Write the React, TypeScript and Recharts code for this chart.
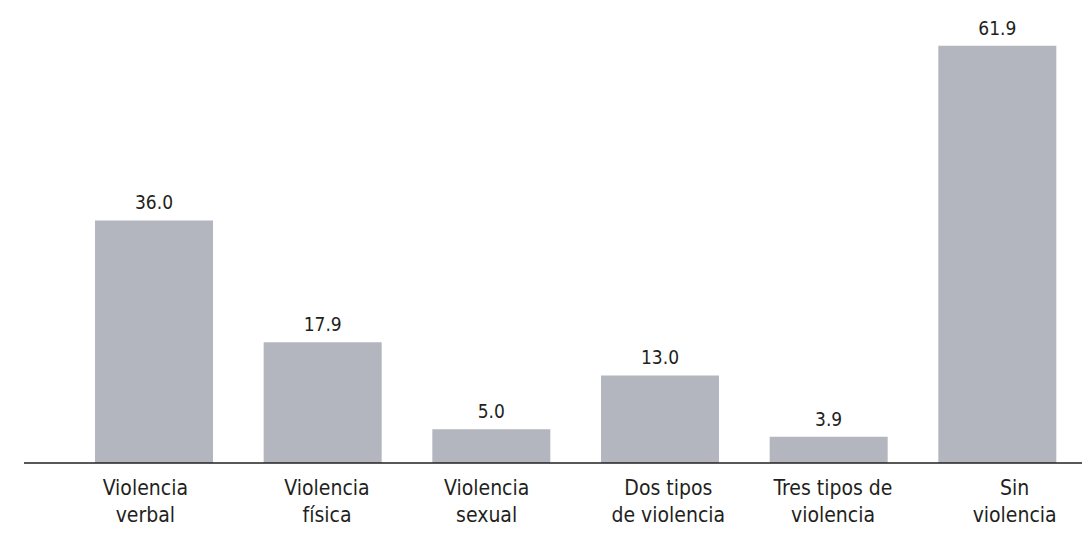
import { BarChart, Bar, XAxis, YAxis, LabelList } from "recharts";

const categories = [
  "Violencia\nverbal",
  "Violencia\nfísica",
  "Violencia\nsexual",
  "Dos tipos\nde violencia",
  "Tres tipos de\nviolencia",
  "Sin\nviolencia",
];
const values = [36.0, 17.9, 5.0, 13.0, 3.9, 61.9];

// small horizontal nudges so the labels sit where the original puts them
const labelNudge = [-9, 4, -5, 8, 4, 17];

const data = categories.map((name, i) => ({ name, value: values[i] }));

const font = "'Liberation Sans Narrow', 'DejaVu Sans Condensed', sans-serif";
const ink = "#231f20";

function CategoryTick(props: any) {
  const { x, y, payload, index } = props;
  const lines = String(payload.value).split("\n");
  const cx = x + (labelNudge[index] ?? 0);
  return (
    <text x={cx} y={y} textAnchor="middle" fontFamily={font} fontSize={21} fill={ink}>
      {lines.map((line, i) => (
        <tspan key={i} x={cx} y={y + 24 + i * 27}>
          {line}
        </tspan>
      ))}
    </text>
  );
}

export default function App() {
  return (
    <div style={{ position: "absolute", left: 0, top: 0, background: "#fff" }}>
      <BarChart
        width={1082}
        height={540}
        data={data}
        margin={{ top: 0, right: 0, left: 24, bottom: 0 }}
      >
        <XAxis
          dataKey="name"
          height={77}
          interval={0}
          padding={{ left: 46, right: 0 }}
          axisLine={{ stroke: ink, strokeWidth: 1.5 }}
          tickLine={false}
          tick={<CategoryTick />}
        />
        <YAxis hide domain={[0, 68.7]} />
        <Bar dataKey="value" fill="#b3b6be" barSize={118} isAnimationActive={false}>
          <LabelList
            dataKey="value"
            position="top"
            offset={11}
            formatter={(v: any) => Number(v).toFixed(1)}
            style={{ fontFamily: font, fontSize: 19, fill: ink }}
          />
        </Bar>
      </BarChart>
    </div>
  );
}
